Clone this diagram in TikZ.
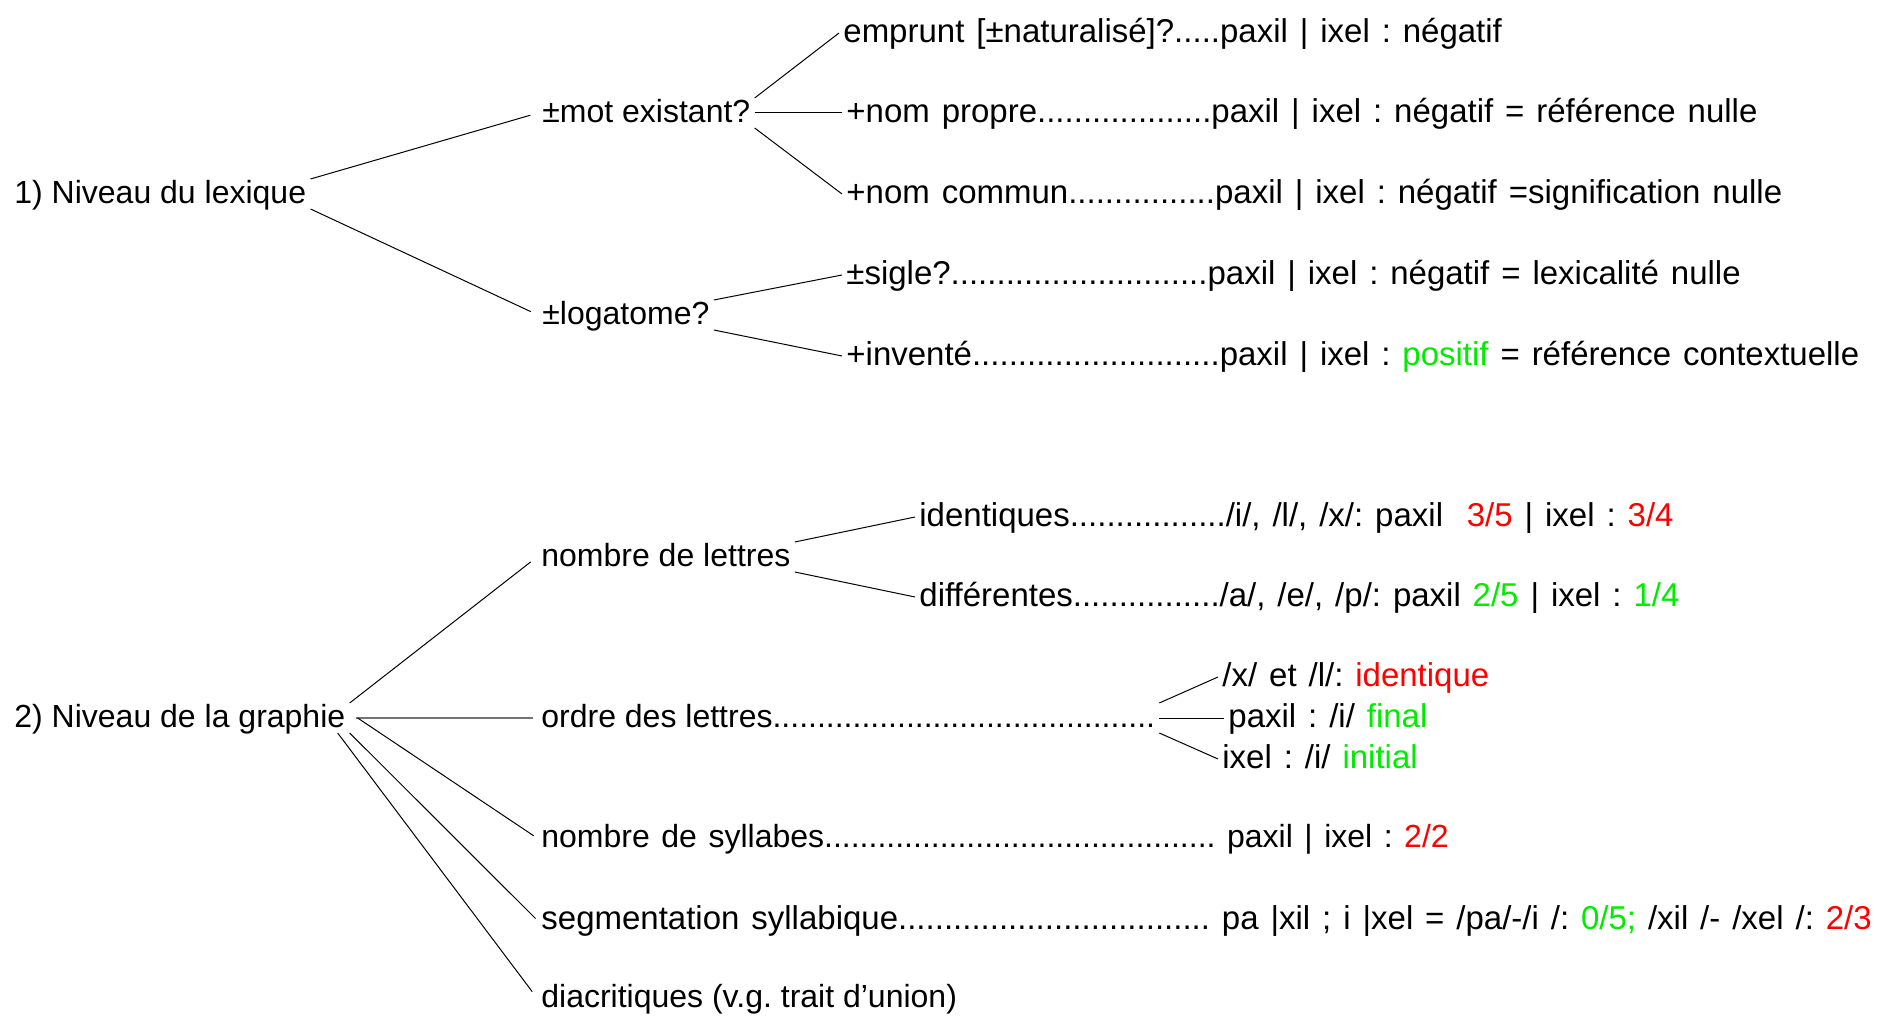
\documentclass[tikz,border=0pt]{standalone}
\usepackage{fontspec}
\setmainfont{Liberation Sans}
\newfontfamily\leaffont{Liberation Sans}[WordSpace=1.3]
\definecolor{PosGreen}{RGB}{0,235,0}
\definecolor{NegRed}{RGB}{255,0,0}

\begin{document}
\frenchspacing
\begin{tikzpicture}[
    x=0.5pt, y=-0.5pt,
    every node/.style={font=\fontsize{16}{19}\selectfont, inner sep=2pt,
        text height=1em, text depth=0.06em, anchor=west},
    leaf/.style={font=\leaffont\fontsize{16.5}{20}\selectfont},
    tail/.style={font=\leaffont\fontsize{16}{19}\selectfont},
    br/.style={line width=0.5pt, black},
    tomid/.style={br, shorten >=4pt},
]
\useasboundingbox (0,0) rectangle (1886,1021);

% ---- 1) niveau du lexique ----
\node (lex) at (10,194) {1) Niveau du lexique};
\node (mot) at (538,113) {±mot existant?};
\node (logat) at (538,315) {±logatome?};

\node[leaf] (empr) at (839,33) {emprunt [±naturalisé]?.....paxil | ixel : négatif};
\node[leaf] (propre) at (842,113) {+nom propre...................paxil | ixel : négatif = référence nulle};
\node[leaf] (commun) at (842,194) {+nom commun................paxil | ixel : négatif =signification nulle};
\node[leaf] (sigle) at (842,275) {±sigle?............................paxil | ixel : négatif = lexicalité nulle};
\node[leaf] (invente) at (842,356)
    {+inventé...........................paxil | ixel : \textcolor{PosGreen}{positif} = référence contextuelle};

\draw[tomid] (lex.north east) -- (mot.west);
\draw[tomid] (lex.south east) -- (logat.west);
\draw[br] (mot.north east) -- (empr.west);
\draw[br] (mot.east) -- (propre.west);
\draw[br] (mot.south east) -- (commun.west);
\draw[br] (logat.north east) -- (sigle.west);
\draw[br] (logat.south east) -- (invente.west);

% ---- 2) niveau de la graphie ----
\node (gra) at (10,718) {2) Niveau de la graphie};
\node (nlet) at (537,557) {nombre de lettres};
\node[leaf] (ident) at (915,517)
    {identiques................./i/, /l/, /x/: paxil~ \textcolor{NegRed}{3/5} | ixel : \textcolor{NegRed}{3/4}};
\node[leaf] (diff) at (915,597)
    {différentes................/a/, /e/, /p/: paxil \textcolor{PosGreen}{2/5} | ixel : \textcolor{PosGreen}{1/4}};
\node (ordre) at (537,718) {ordre des lettres...........................................};
\node[leaf] (xl) at (1218,677) {/x/ et /l/: \textcolor{NegRed}{identique}};
\node[leaf] (pfin) at (1224,718) {paxil : /i/ \textcolor{PosGreen}{final}};
\node[leaf] (iini) at (1218,759) {ixel : /i/ \textcolor{PosGreen}{initial}};
\node[tail] (syl) at (537,838)
    {nombre de syllabes............................................ paxil | ixel : \textcolor{NegRed}{2/2}};
\node[leaf] (seg) at (537,920)
    {segmentation syllabique.................................. pa |xil ; i |xel = /pa/-/i /: \textcolor{PosGreen}{0/5;} /xil /- /xel /: \textcolor{NegRed}{2/3}};
\node (dia) at (537,998) {diacritiques (v.g. trait d’union)};

\draw[tomid] (gra.north east) -- (nlet.west);
\draw[br, black!55, line width=0.9pt, shorten >=2pt] ([xshift=3pt]gra.east) -- (ordre.west);
\draw[br, shorten >=2pt] ([xshift=4pt]gra.east) -- (syl.west);
\draw[br, shorten >=1pt] (gra.south east) -- (seg.west);
\draw[tomid] ([xshift=-6pt]gra.south east) -- (dia.west);
\draw[br] (nlet.north east) -- (ident.west);
\draw[br] (nlet.south east) -- (diff.west);
\draw[br] (ordre.north east) -- (xl.west);
\draw[br] (ordre.east) -- (pfin.west);
\draw[br] (ordre.south east) -- (iini.west);

\end{tikzpicture}
\end{document}
